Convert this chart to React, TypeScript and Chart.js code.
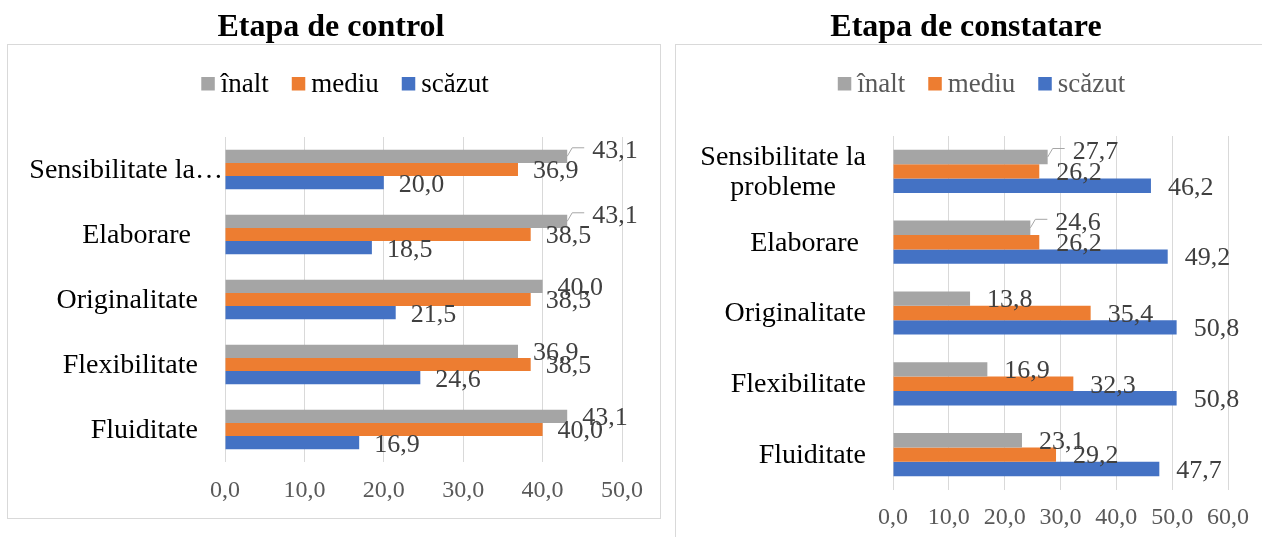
import React, { useEffect, useRef } from 'react';
import { Chart, registerables } from 'chart.js';

Chart.register(...registerables);

const FONT = '"Liberation Serif", "Times New Roman", serif';

const seriesNames = ['înalt', 'mediu', 'scăzut'];
const seriesColors = ['#A5A5A5', '#ED7D31', '#4472C4'];

// Etapa de control
const controlCategories: (string | string[])[] = ['Sensibilitate la…', 'Elaborare ', 'Originalitate', 'Flexibilitate', 'Fluiditate'];
const controlInalt = [43.1, 43.1, 40.0, 36.9, 43.1];
const controlMediu = [36.9, 38.5, 38.5, 38.5, 40.0];
const controlScazut = [20.0, 18.5, 21.5, 24.6, 16.9];
const controlAxisMax = 50;
const controlAxisStep = 10;

// Etapa de constatare
const constatareCategories: (string | string[])[] = [['Sensibilitate la', 'probleme'], 'Elaborare ', 'Originalitate', 'Flexibilitate', 'Fluiditate'];
const constatareInalt = [27.7, 24.6, 13.8, 16.9, 23.1];
const constatareMediu = [26.2, 26.2, 35.4, 32.3, 29.2];
const constatareScazut = [46.2, 49.2, 50.8, 50.8, 47.7];
const constatareAxisMax = 60;
const constatareAxisStep = 10;

const fmt = (v: number) => Number(v).toFixed(1).replace('.', ',');

type Cfg = {
  left: number;
  width: number;
  height: number;
  title: string;
  titleX: number;
  legendX: number;
  legendColor: string;
  box: { x: number; y: number; w: number; h: number };
  categories: (string | string[])[];
  values: number[][];
  max: number;
  step: number;
  padding: { left: number; right: number; top: number; bottom: number };
  tickPadding: number;
  labelOffset: number;
  leaders: number[][];
};

function makeDecor(cfg: Cfg) {
  return {
    id: 'decor',
    beforeDraw(chart: any) {
      const ctx = chart.ctx;
      ctx.save();
      // outer box
      ctx.strokeStyle = '#D9D9D9';
      ctx.lineWidth = 1;
      ctx.strokeRect(cfg.box.x, cfg.box.y, cfg.box.w, cfg.box.h);
      // title
      ctx.fillStyle = '#000000';
      ctx.font = `bold 32px ${FONT}`;
      ctx.textAlign = 'center';
      ctx.textBaseline = 'alphabetic';
      ctx.fillText(cfg.title, cfg.titleX, 36);
      // legend
      ctx.font = `27px ${FONT}`;
      const sq = 13.5;
      const gapSq = 6;
      const gapItem = 23;
      const widths = seriesNames.map((n) => ctx.measureText(n).width);
      const total = widths.reduce((a, w) => a + sq + gapSq + w, 0) + gapItem * (seriesNames.length - 1);
      let x = cfg.legendX - total / 2;
      ctx.textAlign = 'left';
      seriesNames.forEach((n, i) => {
        ctx.fillStyle = seriesColors[i];
        ctx.fillRect(x, 77, sq, sq);
        ctx.fillStyle = cfg.legendColor;
        ctx.fillText(n, x + sq + gapSq, 92);
        x += sq + gapSq + widths[i] + gapItem;
      });
      // category labels
      const yScale = chart.scales.y;
      const area = chart.chartArea;
      ctx.font = `28px ${FONT}`;
      ctx.fillStyle = '#000000';
      ctx.textBaseline = 'middle';
      ctx.textAlign = 'center';
      cfg.categories.forEach((lab, i) => {
        const lines = Array.isArray(lab) ? lab : [lab];
        const bw = Math.max(...lines.map((l) => ctx.measureText(l).width));
        const first = lines[0];
        const gap = first.endsWith('…') ? 2 : 27;
        const right = area.left - gap;
        const cy = yScale.getPixelForValue(i);
        const lh = 30;
        lines.forEach((l, j) => {
          const y = cy + (j - (lines.length - 1) / 2) * lh + 1;
          ctx.fillText(l, right - bw / 2, y);
        });
      });
      ctx.restore();
    },
    afterDatasetsDraw(chart: any) {
      const ctx = chart.ctx;
      ctx.save();
      ctx.font = `26px ${FONT}`;
      ctx.fillStyle = '#404040';
      ctx.textAlign = 'left';
      ctx.textBaseline = 'middle';
      chart.data.datasets.forEach((ds: any, di: number) => {
        const meta = chart.getDatasetMeta(di);
        meta.data.forEach((bar: any, i: number) => {
          const { x, y } = bar.getProps(['x', 'y'], true);
          const txt = fmt(ds.data[i]);
          const lead = cfg.leaders.some(([a, b]) => a === di && b === i);
          if (lead) {
            ctx.strokeStyle = '#A6A6A6';
            ctx.lineWidth = 1;
            ctx.beginPath();
            ctx.moveTo(x, y);
            ctx.lineTo(x + 5, y - 8.5);
            ctx.lineTo(x + 17, y - 8.5);
            ctx.stroke();
            ctx.fillText(txt, x + 25, y - 5);
          } else {
            ctx.fillText(txt, x + cfg.labelOffset, y + 2);
          }
        });
      });
      ctx.restore();
    },
  };
}

function ChartBox({ cfg }: { cfg: Cfg }) {
  const ref = useRef<HTMLCanvasElement | null>(null);
  useEffect(() => {
    if (!ref.current) return;
    const chart = new Chart(ref.current, {
      type: 'bar',
      data: {
        labels: cfg.categories.map((c) => (Array.isArray(c) ? c.join(' ') : c)),
        datasets: seriesNames.map((name, i) => ({
          label: name,
          data: cfg.values[i],
          backgroundColor: seriesColors[i],
          borderWidth: 0,
          categoryPercentage: 0.61,
          barPercentage: 1,
        })),
      },
      options: {
        indexAxis: 'y',
        animation: false,
        responsive: false,
        layout: { padding: cfg.padding },
        plugins: {
          legend: { display: false },
          title: { display: false },
          tooltip: { enabled: false },
        },
        scales: {
          x: {
            min: 0,
            max: cfg.max,
            ticks: {
              stepSize: cfg.step,
              callback: (v: any) => fmt(Number(v)),
              font: { family: FONT, size: 24 },
              color: '#595959',
              padding: cfg.tickPadding,
            },
            grid: { color: '#D9D9D9', drawTicks: false, lineWidth: 1 },
            border: { display: false },
            afterFit: (s: any) => {
              s.height = 40;
              s.paddingLeft = 0;
              s.paddingRight = 0;
            },
          },
          y: {
            ticks: { display: false },
            grid: { display: false },
            border: { display: false },
            afterFit: (s: any) => {
              s.width = 225;
              s.paddingTop = 0;
              s.paddingBottom = 0;
            },
          },
        },
      } as any,
      plugins: [makeDecor(cfg)],
    });
    return () => chart.destroy();
  }, [cfg]);
  return (
    <canvas
      ref={ref}
      width={cfg.width}
      height={cfg.height}
      style={{ position: 'absolute', left: cfg.left, top: 0, width: cfg.width, height: cfg.height }}
    />
  );
}

const controlCfg: Cfg = {
  left: 0,
  width: 668,
  height: 537,
  title: 'Etapa de control',
  titleX: 331,
  legendX: 345,
  legendColor: '#000000',
  box: { x: 7.5, y: 44.5, w: 653, h: 474 },
  categories: controlCategories,
  values: [controlInalt, controlMediu, controlScazut],
  max: controlAxisMax,
  step: controlAxisStep,
  padding: { left: 0, right: 46, top: 137, bottom: 35 },
  tickPadding: 14,
  labelOffset: 15,
  leaders: [[0, 0], [0, 1]],
};

const constatareCfg: Cfg = {
  left: 668,
  width: 594,
  height: 537,
  title: 'Etapa de constatare',
  titleX: 298,
  legendX: 313.5,
  legendColor: '#595959',
  box: { x: 7.5, y: 44.5, w: 700, h: 600 },
  categories: constatareCategories,
  values: [constatareInalt, constatareMediu, constatareScazut],
  max: constatareAxisMax,
  step: constatareAxisStep,
  padding: { left: 0, right: 34, top: 136, bottom: 7 },
  tickPadding: 13,
  labelOffset: 17,
  leaders: [[0, 0], [0, 1]],
};

export default function App() {
  return (
    <div>
      <ChartBox cfg={controlCfg} />
      <ChartBox cfg={constatareCfg} />
    </div>
  );
}
